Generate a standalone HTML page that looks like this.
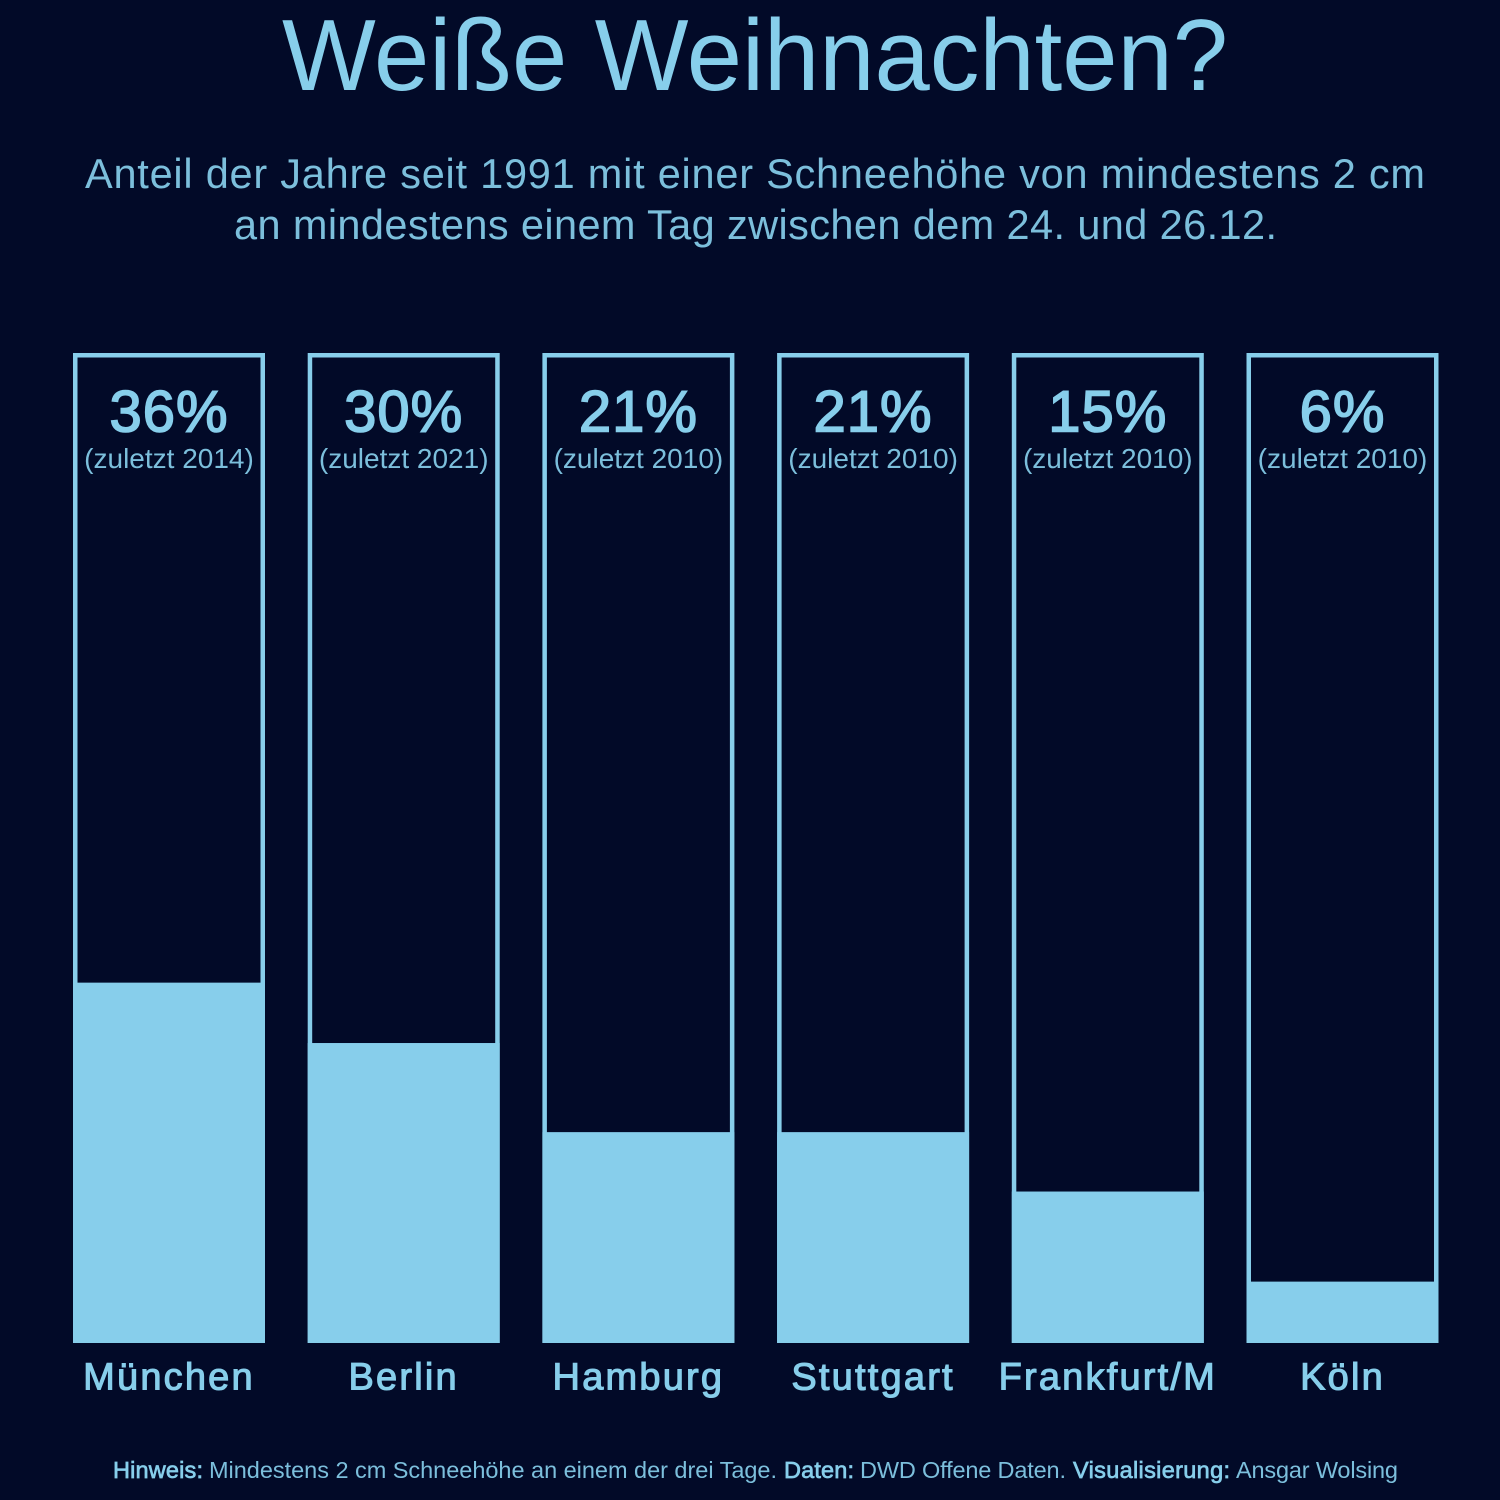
<!DOCTYPE html>
<html lang="de">
<head>
<meta charset="utf-8">
<title>Weiße Weihnachten?</title>
<style>
html,body{margin:0;padding:0;background:#020a28;}
svg{display:block;}
text{font-family:"Liberation Sans",sans-serif;fill:#87ceeb;}
.thin{fill:#7cbfdc;}
.med{stroke:#87ceeb;stroke-width:1.1px;}
</style>
</head>
<body>
<svg id="chart" xmlns="http://www.w3.org/2000/svg" width="1500" height="1500" viewBox="0 0 1500 1500">
  <rect width="1500" height="1500" fill="#020a28"/>
  <text x="282" y="90" font-size="101" textLength="946" lengthAdjust="spacingAndGlyphs">Weiße Weihnachten?</text>
  <text class="thin" x="85" y="188" font-size="41.5" textLength="1340">Anteil der Jahre seit 1991 mit einer Schneehöhe von mindestens 2 cm</text>
  <text class="thin" x="234" y="239" font-size="41.5" textLength="1043">an mindestens einem Tag zwischen dem 24. und 26.12.</text>
  <g id="bars"></g>
  <g font-size="23.5">
    <text class="med" x="113" y="1478" textLength="90" style="stroke-width:.7px">Hinweis:</text>
    <text class="thin" x="209" y="1478" textLength="568">Mindestens 2 cm Schneehöhe an einem der drei Tage.</text>
    <text class="med" x="784" y="1478" textLength="70" style="stroke-width:.7px">Daten:</text>
    <text class="thin" x="860" y="1478" textLength="206">DWD Offene Daten.</text>
    <text class="med" x="1073" y="1478" textLength="157" style="stroke-width:.7px">Visualisierung:</text>
    <text class="thin" x="1236" y="1478" textLength="162">Ansgar Wolsing</text>
  </g>
</svg>
<script>
const categories = ["München", "Berlin", "Hamburg", "Stuttgart", "Frankfurt/M", "Köln"];
const shareValues = [36.4, 30.3, 21.3, 21.3, 15.3, 6.2];
const lastYears = [2014, 2021, 2010, 2010, 2010, 2010];

const NS = "http://www.w3.org/2000/svg";
const group = document.getElementById("bars");
const plotLeft = 73, barWidth = 192, step = 234.7, plotTop = 353, plotBottom = 1343, strokeW = 4.5;
const xScale = function (i) { return plotLeft + i * step; };
const yScale = function (v) { return plotBottom - (v / 100) * (plotBottom - plotTop); };

categories.forEach(function (city, i) {
  const x = xScale(i);
  const cx = x + barWidth / 2;
  const y = yScale(shareValues[i]);

  const frame = document.createElementNS(NS, "rect");
  frame.setAttribute("x", x + strokeW / 2);
  frame.setAttribute("y", plotTop + strokeW / 2);
  frame.setAttribute("width", barWidth - strokeW);
  frame.setAttribute("height", plotBottom - plotTop - strokeW);
  frame.setAttribute("fill", "none");
  frame.setAttribute("stroke", "#87ceeb");
  frame.setAttribute("stroke-width", strokeW);
  
  
  group.appendChild(frame);

  const bar = document.createElementNS(NS, "rect");
  bar.setAttribute("x", x);
  bar.setAttribute("y", y);
  bar.setAttribute("width", barWidth);
  bar.setAttribute("height", plotBottom - y);
  bar.setAttribute("fill", "#87ceeb");
  
  
  group.appendChild(bar);

  const pct = document.createElementNS(NS, "text");
  pct.textContent = Math.round(shareValues[i]) + "%";
  pct.setAttribute("x", cx);
  pct.setAttribute("y", 431.5);
  pct.setAttribute("text-anchor", "middle");
  pct.setAttribute("font-size", 58);
  pct.setAttribute("letter-spacing", 1);
  pct.setAttribute("class", "med");
  pct.setAttribute("style", "stroke-width:1.6px");
  
  
  group.appendChild(pct);

  const last = document.createElementNS(NS, "text");
  last.textContent = "(zuletzt " + lastYears[i] + ")";
  last.setAttribute("x", cx);
  last.setAttribute("y", 468);
  last.setAttribute("text-anchor", "middle");
  last.setAttribute("font-size", 28);
  last.setAttribute("class", "thin");
  
  
  group.appendChild(last);

  const name = document.createElementNS(NS, "text");
  name.textContent = city;
  name.setAttribute("x", cx);
  name.setAttribute("y", 1389.5);
  name.setAttribute("text-anchor", "middle");
  name.setAttribute("font-size", 38);
  name.setAttribute("letter-spacing", 2.2);
  name.setAttribute("class", "med");
  
  
  group.appendChild(name);
});
</script>
</body>
</html>
